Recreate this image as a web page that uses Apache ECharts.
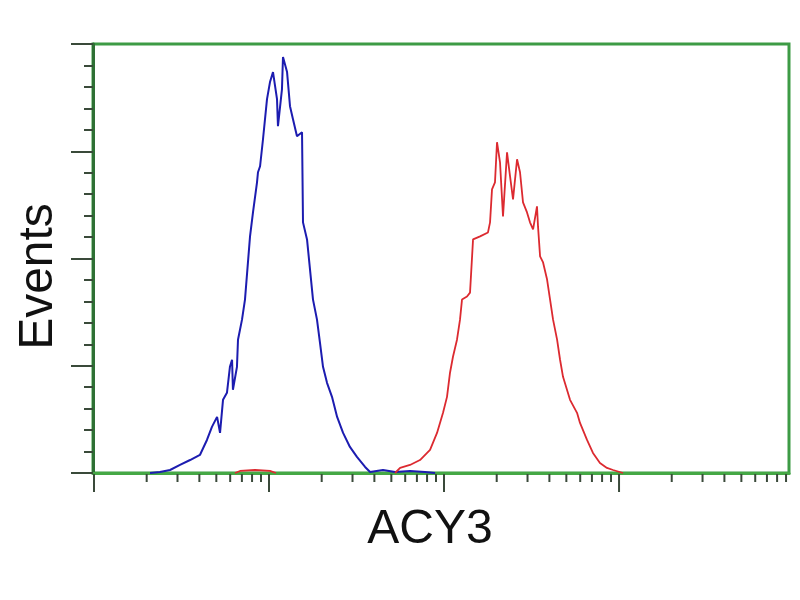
<!DOCTYPE html>
<html>
<head>
<meta charset="utf-8">
<script src="https://cdn.jsdelivr.net/npm/echarts@6/dist/echarts.min.js"></script>
<style>
    html, body { margin: 0; padding: 0; background: #fff; }
    #main { width: 800px; height: 600px; }
</style>
</head>
<body>
<div id="main"></div>
<script>
    // blue histogram (x = intensity, y = events)
    var blueX = [2.09, 2.38, 2.72, 3.10, 3.54, 4.03, 4.42, 4.72, 5.05, 5.25, 5.46, 5.75, 5.98, 6.15, 6.22, 6.56, 6.65, 7.01, 7.29, 7.79, 8.10, 8.54, 8.65, 8.89, 9.24, 9.74, 10.13, 10.54, 11.11, 11.25, 11.86, 12.02, 12.68, 13.18, 13.71, 14.45, 15.44, 15.64, 16.49, 17.84, 18.8, 19.55, 20.35, 21.45, 22.9, 24.5, 26.5, 29.0, 31.8, 35.4, 37.8, 44.8, 52.5, 63.9, 77.8, 88.9];
    var blueY = [0, 0.9, 2.8, 7.5, 12.1, 16.8, 30.8, 43, 52.3, 37.4, 68.2, 74.8, 99, 105.6, 77.6, 99, 124.3, 143, 161.7, 220.6, 243, 271, 280.4, 286, 311.2, 348.6, 364.5, 373.8, 348.6, 323.4, 358, 387.9, 373.8, 342, 329.9, 314, 317.8, 233.7, 217.8, 161.7, 143, 121.5, 99, 84.1, 71, 52.3, 37.4, 24.3, 15, 5.6, 0.9, 2.8, 0.9, 1.9, 0.9, 0];

    // red histogram, null = gap in the line
    var redX = [6.39, 6.83, 8.32, 10.13, 10.96, 30, 52.5, 56.1, 63.9, 72.9, 83.2, 91.2, 98.7, 104, 108.2, 112.5, 118.6, 123.4, 126.7, 135.3, 140.8, 146.5, 160.7, 178.3, 183.2, 188, 195.5, 200.8, 208.9, 217.3, 229.1, 238.4, 247.9, 261.4, 271.8, 282.7, 298, 309.9, 322.7, 339.8, 344.4, 353.9, 368.1, 388, 403.6, 419.8, 442.6, 460.3, 478.6, 524.8, 575.4, 598.4, 656.2, 709.6, 778, 853, 924.7, 1054];
    var redY = [0, 1.9, 2.8, 1.9, 0, null, 0, 4.7, 7.5, 12.1, 21.5, 37.4, 56.1, 71, 93.5, 108.4, 124.3, 143, 161.7, 164.5, 168.2, 217.8, 220.6, 224.3, 233.7, 264.5, 271, 308.4, 289.7, 239.3, 299, 276.6, 255.1, 292.5, 280.4, 252.3, 243, 233.7, 227.1, 248.6, 229.9, 201.9, 196.3, 180.4, 161.7, 143, 124.3, 105.6, 89.7, 68.2, 56.1, 46.7, 30.8, 18.7, 9.3, 4.7, 2.8, 0];

    // log axis ticks
    var majorTicks = [1, 10, 100, 1000];
    var minorTicks = [2, 3, 4, 5, 6, 7, 8, 9, 20, 30, 40, 50, 60, 70, 80, 90, 200, 300, 400, 500, 600, 700, 800, 900, 2000, 3000, 4000, 5000, 6000, 7000, 8000, 9000];

    function pairs(xs, ys) {
        return xs.map(function (x, i) { return [x, ys[i] === null ? '-' : ys[i]]; });
    }

    var tickData = majorTicks.map(function (v) { return [v, 0, 1]; })
        .concat(minorTicks.map(function (v) { return [v, 0, 0]; }));

    function renderTick(params, api) {
        var p = api.coord([api.value(0), 0]);
        var len = api.value(2) ? 19 : 9;
        return {
            type: 'line',
            shape: { x1: p[0], y1: p[1] + 1, x2: p[0], y2: p[1] + len },
            style: { stroke: '#3a4a3a', lineWidth: 2 }
        };
    }

    var chart = echarts.init(document.getElementById('main'));
    chart.setOption({
        animation: false,
        grid: {
            left: 93, right: 11, top: 44, bottom: 127,
            show: true,
            borderColor: '#3d9b45',
            borderWidth: 3
        },
        xAxis: {
            type: 'log',
            min: 0.987,
            max: 9357,
            name: 'ACY3',
            nameLocation: 'middle',
            nameGap: 33,
            nameTextStyle: {
                fontFamily: 'Liberation Sans', fontSize: 48, color: '#111',
                padding: [0, 22, 0, 0]
            },
            axisLine: { lineStyle: { color: '#45a845', width: 3 } },
            axisTick: { show: false },
            axisLabel: { show: false },
            splitLine: { show: false }
        },
        yAxis: {
            type: 'value',
            min: 0,
            max: 400,
            interval: 100,
            name: 'Events',
            nameLocation: 'middle',
            nameRotate: 90,
            nameGap: 30,
            nameTextStyle: {
                fontFamily: 'Liberation Sans', fontSize: 48, color: '#111',
                padding: [0, 36, 0, 0]
            },
            axisLine: { show: true, lineStyle: { color: '#2e7034', width: 3 } },
            axisTick: { show: true, length: 22, lineStyle: { color: '#3a4a3a', width: 2 } },
            minorTick: { show: true, splitNumber: 5, length: 9, lineStyle: { color: '#3a4a3a', width: 2 } },
            axisLabel: { show: false },
            splitLine: { show: false }
        },
        series: [
            {
                type: 'line',
                data: pairs(blueX, blueY),
                showSymbol: false,
                lineStyle: { color: '#1c1cb0', width: 2 },
                z: 3
            },
            {
                type: 'line',
                data: pairs(redX, redY),
                showSymbol: false,
                connectNulls: false,
                lineStyle: { color: '#dc2a30', width: 1.8 },
                z: 3
            },
            {
                type: 'custom',
                renderItem: renderTick,
                data: tickData,
                silent: true,
                clip: false,
                z: 1
            }
        ]
    });
</script>
</body>
</html>
